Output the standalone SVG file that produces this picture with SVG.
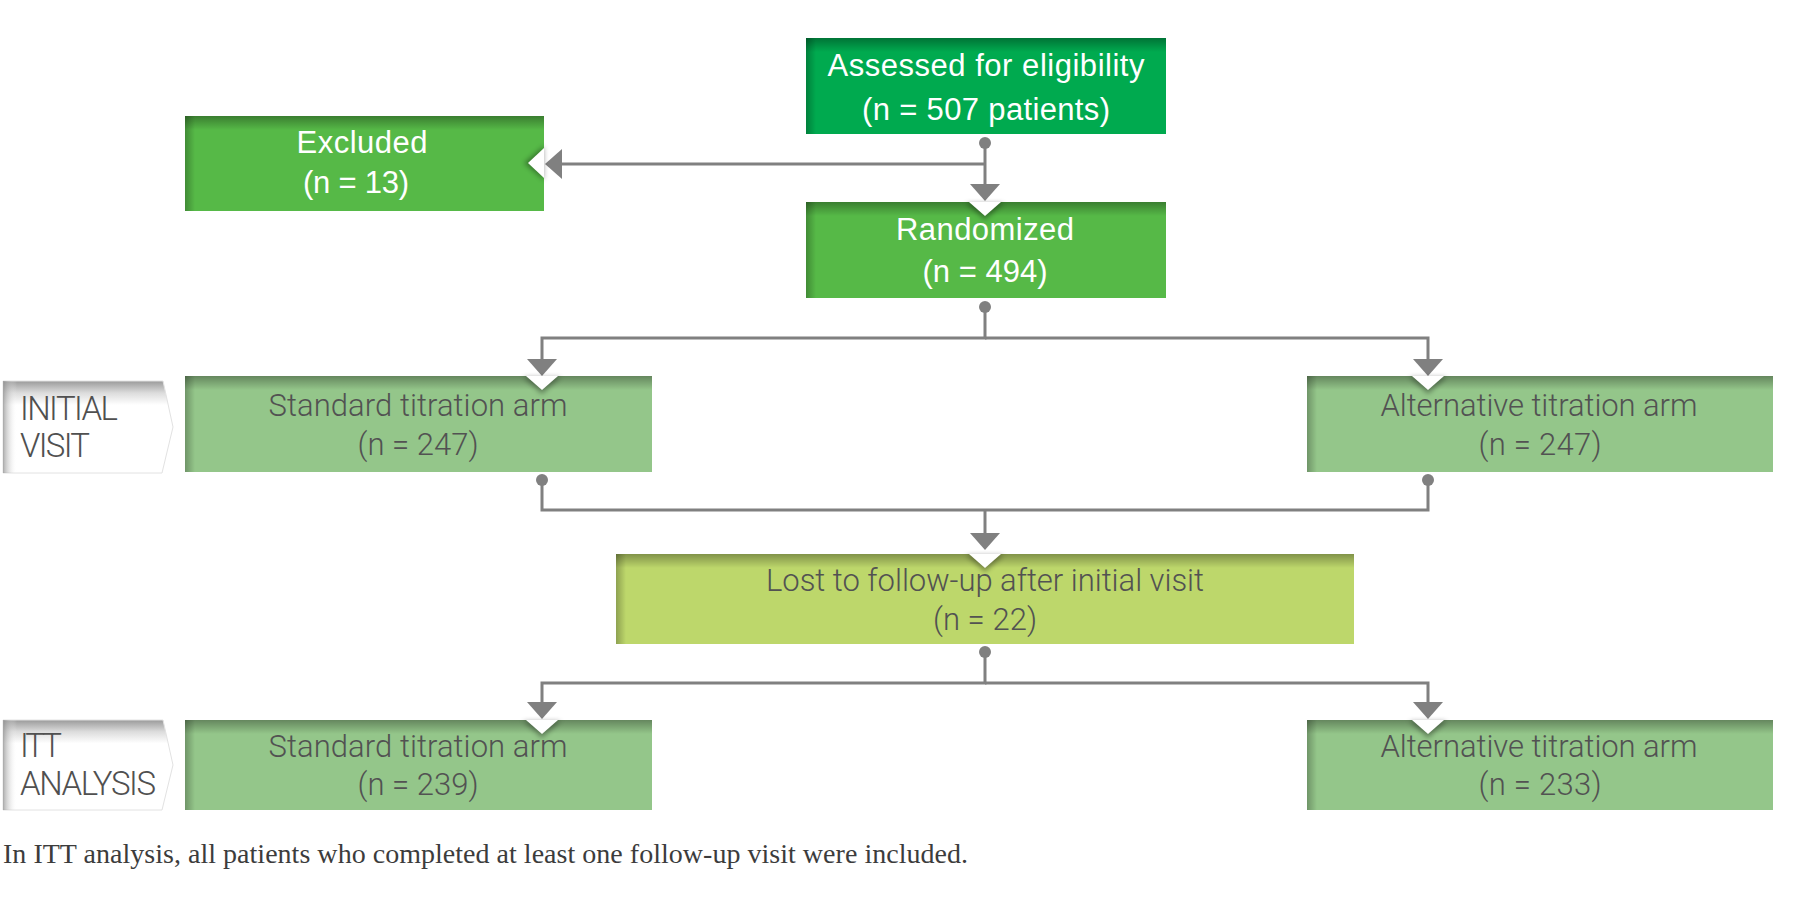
<svg xmlns="http://www.w3.org/2000/svg" width="1812" height="897" viewBox="0 0 1812 897">
<style>
.wt{font-family:"Liberation Sans",Arial,sans-serif;font-size:31px;fill:#ffffff;text-anchor:middle}
.gt{font-family:Roboto,"Liberation Sans",sans-serif;font-weight:300;font-size:31px;fill:#525252;text-anchor:middle}
.tt{font-family:Roboto,"Liberation Sans",sans-serif;font-weight:300;font-size:33px;fill:#505050}
.fn{font-family:"Liberation Serif","Times New Roman",serif;font-size:28px;fill:#3c3c3c}
.con{fill:none;stroke:#808080;stroke-width:3}
.c1{fill:#00aa4f}
.c2{fill:#56b947}
.c3{fill:#94c68a}
.c4{fill:#bdd76b}
.ts{fill:url(#topShade)}
.ls{fill:url(#leftShade)}
.nsh{fill:#000;opacity:0.35;filter:url(#blur)}
.nw{fill:#ffffff}
.tab{fill:url(#tabGrad);stroke:#e2e2e2;stroke-width:1}
.tabl{fill:url(#tabLeft)}
</style>
<defs>
<linearGradient id="topShade" x1="0" y1="0" x2="0" y2="1">
<stop offset="0" stop-color="#000" stop-opacity="0.32"/>
<stop offset="1" stop-color="#000" stop-opacity="0"/>
</linearGradient>
<linearGradient id="leftShade" x1="0" y1="0" x2="1" y2="0">
<stop offset="0" stop-color="#000" stop-opacity="0.25"/>
<stop offset="1" stop-color="#000" stop-opacity="0"/>
</linearGradient>
<linearGradient id="tabGrad" x1="0" y1="0" x2="0" y2="1">
<stop offset="0" stop-color="#9a9a9a"/>
<stop offset="0.13" stop-color="#dcdcdc"/>
<stop offset="0.26" stop-color="#ffffff"/>
<stop offset="1" stop-color="#ffffff"/>
</linearGradient>
<linearGradient id="tabLeft" x1="0" y1="0" x2="1" y2="0">
<stop offset="0" stop-color="#8a8a8a" stop-opacity="0.7"/>
<stop offset="1" stop-color="#ffffff" stop-opacity="0"/>
</linearGradient>
<filter id="blur" x="-50%" y="-50%" width="200%" height="200%">
<feGaussianBlur stdDeviation="2.5"/>
</filter>
<marker id="arrow" markerUnits="userSpaceOnUse" markerWidth="17" markerHeight="30" refX="8" refY="15" orient="auto">
<path d="M0,0 L17,15 L0,30 Z" fill="#808080"/>
</marker>
<marker id="dot" markerUnits="userSpaceOnUse" markerWidth="14" markerHeight="14" refX="7" refY="7" orient="auto">
<circle cx="7" cy="7" r="6" fill="#808080"/>
</marker>
</defs>
<rect x="0" y="0" width="1812" height="897" fill="#ffffff"/>

<g id="connectors">
<path class="con" d="M985,143 V192" marker-start="url(#dot)" marker-end="url(#arrow)"/>
<path class="con" d="M985,164 H554" marker-end="url(#arrow)"/>
<path class="con" d="M985,307 V338 H542 V367" marker-start="url(#dot)" marker-end="url(#arrow)"/>
<path class="con" d="M985,338 H1428 V367" marker-end="url(#arrow)"/>
<path class="con" d="M542,480 V510 H985" marker-start="url(#dot)"/>
<path class="con" d="M1428,480 V510 H985" marker-start="url(#dot)"/>
<path class="con" d="M985,510 V541" marker-end="url(#arrow)"/>
<path class="con" d="M985,652 V683 H542 V710" marker-start="url(#dot)" marker-end="url(#arrow)"/>
<path class="con" d="M985,683 H1428 V710" marker-end="url(#arrow)"/>
</g>

<g id="assessed">
<rect class="c1" x="806" y="38" width="360" height="96"/>
<rect class="ts" x="806" y="38" width="360" height="14"/>
<rect class="ls" x="806" y="38" width="10" height="96"/>
<text class="wt" x="986" y="76" textLength="317">Assessed for eligibility</text>
<text class="wt" x="986" y="120" textLength="248">(n = 507 patients)</text>
</g>

<g id="excluded">
<rect class="c2" x="185" y="116" width="359" height="95"/>
<rect class="ts" x="185" y="116" width="359" height="14"/>
<rect class="ls" x="185" y="116" width="10" height="95"/>
<polygon class="nsh" points="544,146 544,180 524,163"/>
<polygon class="nw" points="544,148 544,178 528,163"/>
<text class="wt" x="362" y="153" textLength="131">Excluded</text>
<text class="wt" x="356" y="193" textLength="106">(n = 13)</text>
</g>

<g id="randomized">
<rect class="c2" x="806" y="202" width="360" height="96"/>
<rect class="ts" x="806" y="202" width="360" height="14"/>
<rect class="ls" x="806" y="202" width="10" height="96"/>
<polygon class="nsh" points="966,203 1004,203 985,220"/>
<polygon class="nw" points="969,202 1001,202 985,216"/>
<text class="wt" x="985" y="240" textLength="178">Randomized</text>
<text class="wt" x="985" y="282" textLength="125">(n = 494)</text>
</g>

<g id="tab-initial">
<polygon class="tab" points="3,381 163,381 173,427 162,473 3,473"/>
<rect class="tabl" x="3" y="381" width="14" height="92"/>
<text class="tt" x="20" y="420" textLength="98">INITIAL</text>
<text class="tt" x="20" y="457" textLength="70">VISIT</text>
</g>

<g id="std-initial">
<rect class="c3" x="185" y="376" width="467" height="96"/>
<rect class="ts" x="185" y="376" width="467" height="14"/>
<rect class="ls" x="185" y="376" width="10" height="96"/>
<polygon class="nsh" points="523,377 561,377 542,394"/>
<polygon class="nw" points="526,376 558,376 542,390"/>
<text class="gt" x="418" y="416" textLength="299">Standard titration arm</text>
<text class="gt" x="418" y="455" textLength="121">(n = 247)</text>
</g>

<g id="alt-initial">
<rect class="c3" x="1307" y="376" width="466" height="96"/>
<rect class="ts" x="1307" y="376" width="466" height="14"/>
<rect class="ls" x="1307" y="376" width="10" height="96"/>
<polygon class="nsh" points="1409,377 1447,377 1428,394"/>
<polygon class="nw" points="1412,376 1444,376 1428,390"/>
<text class="gt" x="1539" y="416" textLength="317">Alternative titration arm</text>
<text class="gt" x="1540" y="455" textLength="123">(n = 247)</text>
</g>

<g id="lost">
<rect class="c4" x="616" y="554" width="738" height="90"/>
<rect class="ts" x="616" y="554" width="738" height="14"/>
<rect class="ls" x="616" y="554" width="10" height="90"/>
<polygon class="nsh" points="966,555 1004,555 985,572"/>
<polygon class="nw" points="969,554 1001,554 985,568"/>
<text class="gt" x="985" y="591" textLength="438">Lost to follow-up after initial visit</text>
<text class="gt" x="985" y="630" textLength="104">(n = 22)</text>
</g>

<g id="tab-itt">
<polygon class="tab" points="3,720 163,720 173,765 162,810 3,810"/>
<rect class="tabl" x="3" y="720" width="14" height="90"/>
<text class="tt" x="20" y="757" textLength="42">ITT</text>
<text class="tt" x="20" y="795" textLength="136">ANALYSIS</text>
</g>

<g id="std-itt">
<rect class="c3" x="185" y="720" width="467" height="90"/>
<rect class="ts" x="185" y="720" width="467" height="14"/>
<rect class="ls" x="185" y="720" width="10" height="90"/>
<polygon class="nsh" points="523,721 561,721 542,738"/>
<polygon class="nw" points="526,720 558,720 542,734"/>
<text class="gt" x="418" y="757" textLength="299">Standard titration arm</text>
<text class="gt" x="418" y="795" textLength="121">(n = 239)</text>
</g>

<g id="alt-itt">
<rect class="c3" x="1307" y="720" width="466" height="90"/>
<rect class="ts" x="1307" y="720" width="466" height="14"/>
<rect class="ls" x="1307" y="720" width="10" height="90"/>
<polygon class="nsh" points="1409,721 1447,721 1428,738"/>
<polygon class="nw" points="1412,720 1444,720 1428,734"/>
<text class="gt" x="1539" y="757" textLength="317">Alternative titration arm</text>
<text class="gt" x="1540" y="795" textLength="123">(n = 233)</text>
</g>

<g id="footnote">
<text class="fn" x="3" y="863" textLength="965">In ITT analysis, all patients who completed at least one follow-up visit were included.</text>
</g>
</svg>
